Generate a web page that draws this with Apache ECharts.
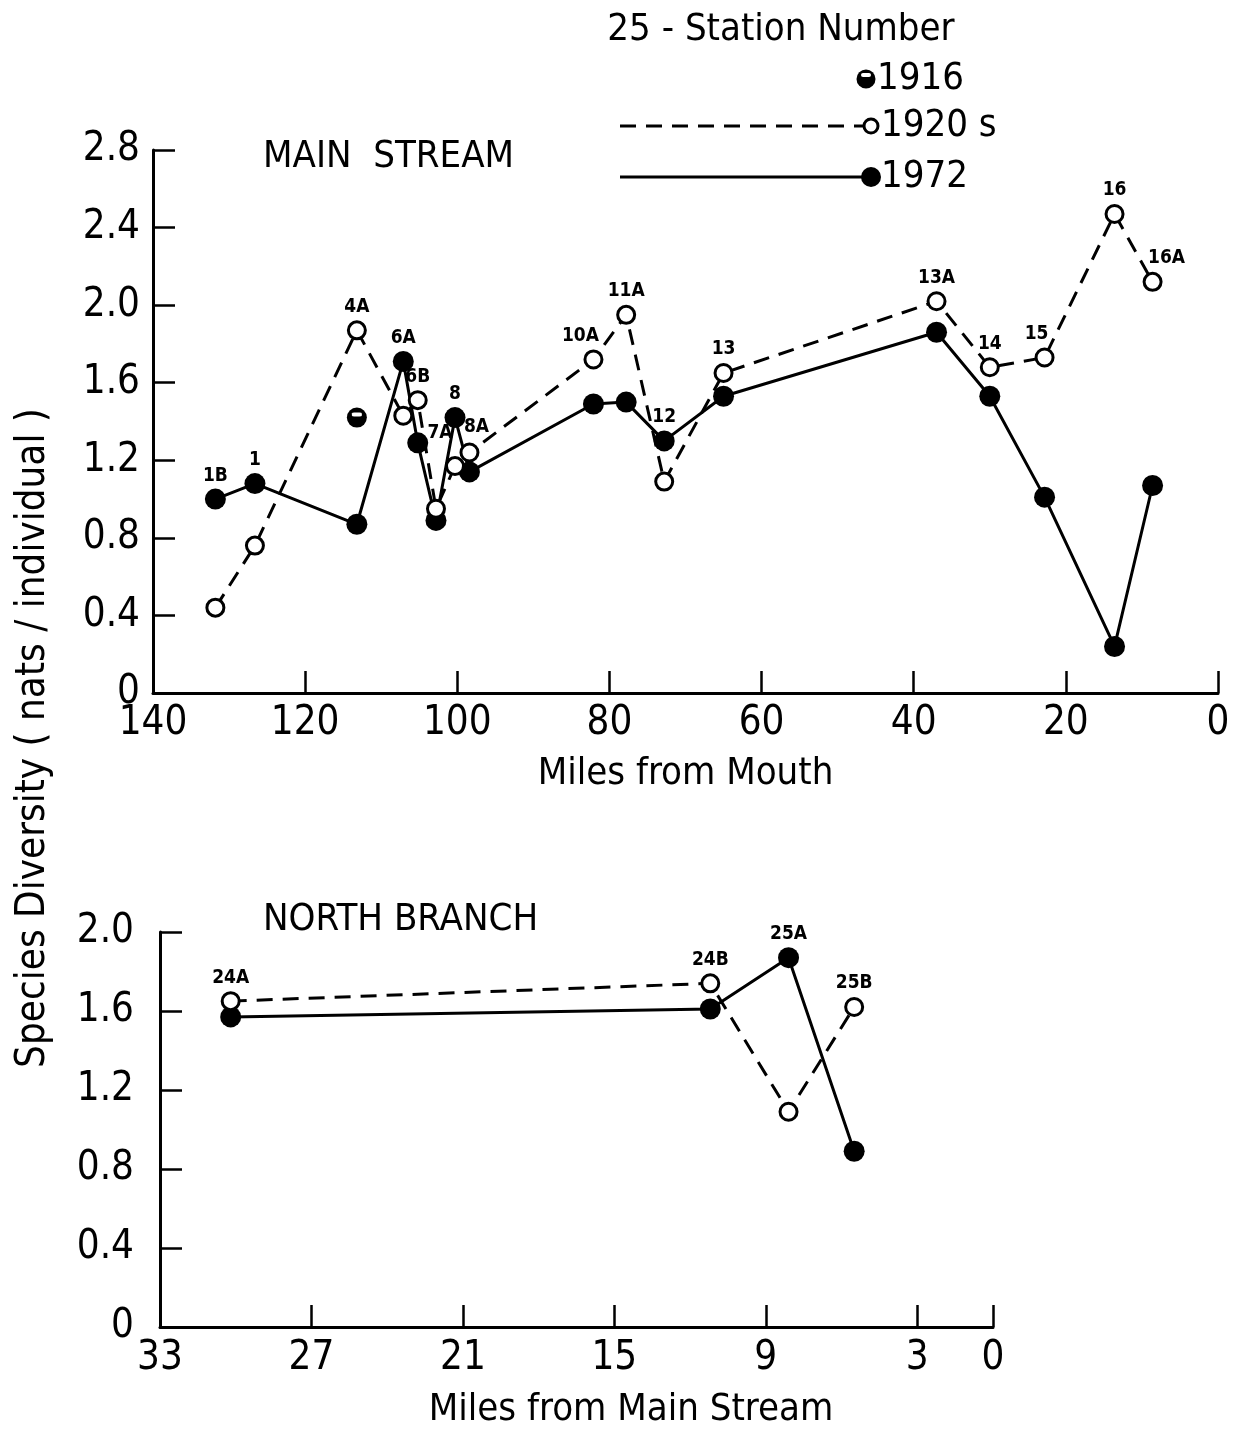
<!DOCTYPE html>
<html>
<head>
<meta charset="utf-8">
<script src="https://cdn.jsdelivr.net/npm/echarts@6/dist/echarts.min.js"></script>
<style>
html, body { margin: 0; padding: 0; background: #fff; }
#chart { width: 1233px; height: 1431px; }
</style>
</head>
<body>
<div id="chart"></div>
<script>
/**
 * data
 */
// main stream
var mainStations = ['1B', '1', '4A', '6A', '6B', '7A', '8', '8A', '10A', '11A', '12', '13', '13A', '14', '15', '16', '16A'];
var mainMiles    = [131.8, 126.6, 113.2, 107.1, 105.2, 102.8, 100.3, 98.4, 82.1, 77.8, 72.8, 65.0, 37.0, 30.0, 22.8, 13.6, 8.6];
var main1920s    = [0.44, 0.76, 1.87, 1.43, 1.51, 0.95, 1.17, 1.24, 1.72, 1.95, 1.09, 1.65, 2.02, 1.68, 1.73, 2.47, 2.12];
var main1972     = [1.00, 1.08, 0.87, 1.71, 1.29, 0.89, 1.42, 1.14, 1.49, 1.50, 1.30, 1.53, 1.86, 1.53, 1.01, 0.24, 1.07];
var main1916Miles = [113.2];
var main1916      = [1.42];

// north branch
var northStations = ['24A', '24B', '25A', '25B'];
var northMiles    = [30.2, 11.2, 8.1, 5.5];
var north1920s    = [1.65, 1.74, 1.09, 1.62];
var north1972     = [1.57, 1.61, 1.87, 0.89];

// tick labels
var mainXTicks  = [140, 120, 100, 80, 60, 40, 20, 0];
var northXTicks = [33, 27, 21, 15, 9, 3, 0];

// label nudges (style only)
var labelNudge = { '7A': [4, -52], '8A': [7, -2], '10A': [-13, 0], '15': [-8, 0], '16A': [14, 0] };

var FONT = "'Liberation Sans Narrow', 'DejaVu Sans Condensed', 'Liberation Sans', sans-serif";

function pairs(xs, ys){
    var out = [];
    for (var i = 0; i < xs.length; i++) out.push([xs[i], ys[i]]);
    return out;
}

function labelPoints(names, xs, a, b){
    var out = [];
    for (var i = 0; i < names.length; i++) {
        var item = { value: [xs[i], Math.max(a[i], b[i])], name: names[i] };
        if (labelNudge[names[i]]) item.label = { offset: labelNudge[names[i]] };
        out.push(item);
    }
    return out;
}

function yFmt(v){
    return v === 0 ? '0' : v.toFixed(1);
}

var axisLine = { show: true, onZero: false, lineStyle: { color: '#000', width: 3 } };
var axisTick = { show: true, inside: true, length: 22, lineStyle: { color: '#000', width: 2.5 } };
var tickFont = { color: '#000', fontSize: 40, fontFamily: FONT };

var openSym  = { color: '#fff', borderColor: '#000', borderWidth: 3, opacity: 1 };
var solidSym = { color: '#000', opacity: 1 };

var stationLabel = {
    show: true, position: 'top', distance: 14, formatter: '{b}',
    color: '#000', fontSize: 19, fontWeight: 'bold', fontFamily: FONT
};

var chart = echarts.init(document.getElementById('chart'), null, { renderer: 'canvas' });

var option = {
    animation: false,
    backgroundColor: '#fff',
    grid: [
        { left: 153, top: 150, width: 1065, height: 543 },
        { left: 160, top: 932, width: 833, height: 395 }
    ],
    xAxis: [
        {
            gridIndex: 0, type: 'value', min: 0, max: 140, interval: 20, inverse: true,
            axisLine: axisLine, axisTick: axisTick, splitLine: { show: false },
            axisLabel: Object.assign({ margin: 11 }, tickFont),
            name: 'Miles from Mouth', nameLocation: 'middle', nameGap: 62,
            nameTextStyle: { color: '#000', fontSize: 38, fontFamily: FONT }
        },
        {
            gridIndex: 1, type: 'value', min: 0, max: 33, inverse: true,
            axisLine: axisLine,
            axisTick: Object.assign({ customValues: northXTicks }, axisTick),
            splitLine: { show: false },
            axisLabel: Object.assign({ margin: 12, customValues: northXTicks }, tickFont)
        }
    ],
    yAxis: [
        {
            gridIndex: 0, type: 'value', min: 0, max: 2.8, interval: 0.4,
            axisLine: axisLine, axisTick: axisTick, splitLine: { show: false },
            axisLabel: Object.assign({ margin: 13, formatter: yFmt }, tickFont)
        },
        {
            gridIndex: 1, type: 'value', min: 0, max: 2.0, interval: 0.4,
            axisLine: axisLine, axisTick: axisTick, splitLine: { show: false },
            axisLabel: Object.assign({ margin: 26, formatter: yFmt }, tickFont)
        }
    ],
    series: [
        {
            name: '1972', type: 'line', xAxisIndex: 0, yAxisIndex: 0, z: 2,
            data: pairs(mainMiles, main1972),
            symbol: 'circle', symbolSize: 21, itemStyle: solidSym,
            lineStyle: { color: '#000', width: 3 }
        },
        {
            name: '1920s', type: 'line', xAxisIndex: 0, yAxisIndex: 0, z: 3,
            data: pairs(mainMiles, main1920s),
            symbol: 'circle', symbolSize: 17, itemStyle: openSym,
            lineStyle: { color: '#000', width: 3, type: [16, 10] }
        },
        {
            name: '1916', type: 'scatter', xAxisIndex: 0, yAxisIndex: 0, z: 4,
            data: pairs(main1916Miles, main1916),
            symbol: 'circle', symbolSize: 20, itemStyle: solidSym
        },
        {
            name: '1916 mark', type: 'scatter', xAxisIndex: 0, yAxisIndex: 0, z: 5, silent: true,
            data: pairs(main1916Miles, main1916),
            symbol: 'roundRect', symbolSize: [10, 4], symbolOffset: [0, -3],
            itemStyle: { color: '#fff', opacity: 1 }
        },
        {
            name: 'main labels', type: 'scatter', xAxisIndex: 0, yAxisIndex: 0, z: 6, silent: true,
            data: labelPoints(mainStations, mainMiles, main1920s, main1972),
            symbolSize: 0, itemStyle: { opacity: 1 },
            label: stationLabel
        },
        {
            name: '1972 north', type: 'line', xAxisIndex: 1, yAxisIndex: 1, z: 2,
            data: pairs(northMiles, north1972),
            symbol: 'circle', symbolSize: 21, itemStyle: solidSym,
            lineStyle: { color: '#000', width: 3 }
        },
        {
            name: '1920s north', type: 'line', xAxisIndex: 1, yAxisIndex: 1, z: 3,
            data: pairs(northMiles, north1920s),
            symbol: 'circle', symbolSize: 17, itemStyle: openSym,
            lineStyle: { color: '#000', width: 3, type: [16, 10] }
        },
        {
            name: 'north labels', type: 'scatter', xAxisIndex: 1, yAxisIndex: 1, z: 6, silent: true,
            data: labelPoints(northStations, northMiles, north1920s, north1972),
            symbolSize: 0, itemStyle: { opacity: 1 },
            label: stationLabel
        }
    ],
    graphic: [
        // panel titles
        { type: 'text', left: 263, top: 138, style: { text: 'MAIN  STREAM', fill: '#000', fontSize: 38, fontFamily: FONT } },
        { type: 'text', left: 263, top: 901, style: { text: 'NORTH BRANCH', fill: '#000', fontSize: 38, fontFamily: FONT } },
        // y axis title
        {
            type: 'text', x: 34, y: 738, rotation: Math.PI / 2,
            style: { text: 'Species Diversity ( nats / individual )', fill: '#000', fontSize: 40, fontFamily: FONT, align: 'center', verticalAlign: 'middle' }
        },
        // bottom x axis title
        {
            type: 'text', x: 631, y: 1410,
            style: { text: 'Miles from Main Stream', fill: '#000', fontSize: 38, fontFamily: FONT, align: 'center', verticalAlign: 'middle' }
        },
        // legend
        {
            type: 'text', x: 781, y: 30,
            style: { text: '25 - Station Number', fill: '#000', fontSize: 38, fontFamily: FONT, align: 'center', verticalAlign: 'middle' }
        },
        { type: 'circle', shape: { cx: 866, cy: 79, r: 9.5 }, style: { fill: '#000' } },
        { type: 'rect', shape: { x: 861, y: 73, width: 10, height: 4, r: 2 }, style: { fill: '#fff' } },
        { type: 'text', x: 877, y: 79, style: { text: '1916', fill: '#000', fontSize: 38, fontFamily: FONT, verticalAlign: 'middle' } },
        { type: 'line', shape: { x1: 620, y1: 126, x2: 864, y2: 126 }, style: { stroke: '#000', lineWidth: 3, lineDash: [16, 10] } },
        { type: 'circle', shape: { cx: 871, cy: 126, r: 7 }, style: { fill: '#fff', stroke: '#000', lineWidth: 3 } },
        { type: 'text', x: 881, y: 126, style: { text: '1920 s', fill: '#000', fontSize: 38, fontFamily: FONT, verticalAlign: 'middle' } },
        { type: 'line', shape: { x1: 620, y1: 177, x2: 866, y2: 177 }, style: { stroke: '#000', lineWidth: 3 } },
        { type: 'circle', shape: { cx: 871, cy: 177, r: 10 }, style: { fill: '#000' } },
        { type: 'text', x: 881, y: 177, style: { text: '1972', fill: '#000', fontSize: 38, fontFamily: FONT, verticalAlign: 'middle' } }
    ]
};

chart.setOption(option);
</script>
</body>
</html>
